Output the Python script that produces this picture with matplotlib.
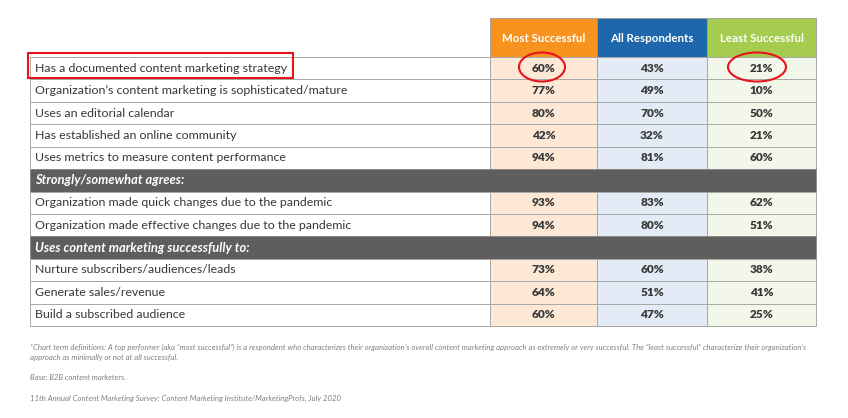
import matplotlib.pyplot as plt
from matplotlib.patches import Rectangle, Ellipse

# table content
columns = ["Most Successful", "All Respondents", "Least Successful"]
rows = [
    "Has a documented content marketing strategy",
    "Organization\u2019s content marketing is sophisticated/mature",
    "Uses an editorial calendar",
    "Has established an online community",
    "Uses metrics to measure content performance",
    "Strongly/somewhat agrees:",
    "Organization made quick changes due to the pandemic",
    "Organization made effective changes due to the pandemic",
    "Uses content marketing successfully to:",
    "Nurture subscribers/audiences/leads",
    "Generate sales/revenue",
    "Build a subscribed audience",
]
most = [60, 77, 80, 42, 94, None, 93, 94, None, 73, 64, 60]
allr = [43, 49, 70, 32, 81, None, 83, 80, None, 60, 51, 47]
least = [21, 10, 50, 21, 60, None, 62, 51, None, 38, 41, 25]
values = [most, allr, least]

footnotes = [
    "*Chart term definitions: A top performer (aka \u201cmost successful\u201d) is a respondent who characterizes their organization\u2019s overall content marketing approach as extremely or very successful. The \u201cleast successful\u201d characterize their organization\u2019s",
    "approach as minimally or not at all successful.",
    "",
    "Base: B2B content marketers.",
    "",
    "11th Annual Content Marketing Survey: Content Marketing Institute/MarketingProfs, July 2020",
]

head_colors = ["#F7931E", "#1E67AC", "#A5CB4F"]
cell_colors = ["#FDE8D6", "#E3EBF6", "#F3F7EA"]
section_color = "#5E5E5E"
text_color = "#383838"

# layout in pixels
x0, xl = 30, 490
col_edges = [490, 597, 707, 816]
head_top, head_bot = 18, 57
row_h = (326 - 57) / len(rows)

plt.rcParams['font.family'] = ['Lato', 'DejaVu Sans']
fig = plt.figure(figsize=(8.48, 4.18), dpi=100)
ax = fig.add_axes([0, 0, 1, 1])
ax.set_xlim(0, 848)
ax.set_ylim(418, 0)
ax.axis('off')

# header
for j, name in enumerate(columns):
    a, b = col_edges[j], col_edges[j + 1]
    ax.add_patch(Rectangle((a, head_top), b - a, head_bot - head_top,
                           facecolor=head_colors[j], edgecolor="#9A9A9A", lw=0.6))
    ax.text((a + b) / 2, 38, name, color="white", fontsize=8.3,
            fontweight='bold', ha='center', va='center')

for i, label in enumerate(rows):
    y = head_bot + i * row_h
    if most[i] is None:
        ax.add_patch(Rectangle((x0, y), col_edges[-1] - x0, row_h,
                               facecolor=section_color, edgecolor="#8A8A8A", lw=0.6))
        ax.text(x0 + 5, y + row_h / 2, label, color="white", fontsize=9.3,
                fontweight='bold', style='italic', ha='left', va='center')
        continue
    ax.add_patch(Rectangle((x0, y), xl - x0, row_h,
                           facecolor="white", edgecolor="#A8A8A8", lw=0.7))
    ax.text(x0 + 5, y + row_h / 2, label, color=text_color, fontsize=8.9,
            ha='left', va='center')
    for j in range(3):
        a, b = col_edges[j], col_edges[j + 1]
        ax.add_patch(Rectangle((a, y), b - a, row_h,
                               facecolor=cell_colors[j], edgecolor="#A8A8A8", lw=0.7))
        ax.text((a + b) / 2, y + row_h / 2, f"{values[j][i]}%", color=text_color,
                fontsize=8.6, fontweight='heavy', ha='center', va='center')

# red highlights
ax.add_patch(Rectangle((28, 53), 265, 25, facecolor='none', edgecolor='#E8141B', lw=1.5))
ax.add_patch(Ellipse((542, 67), 46, 29, facecolor='none', edgecolor='#E8141B', lw=1.5))
ax.add_patch(Ellipse((757, 67), 58, 29, facecolor='none', edgecolor='#E8141B', lw=1.5))

# footnotes
for k, line in enumerate(footnotes):
    ax.text(x0, 347 + k * 10.2, line, color="#808080", fontsize=5.6,
            style='italic', ha='left', va='center')

fig.savefig("out.png", dpi=100)
